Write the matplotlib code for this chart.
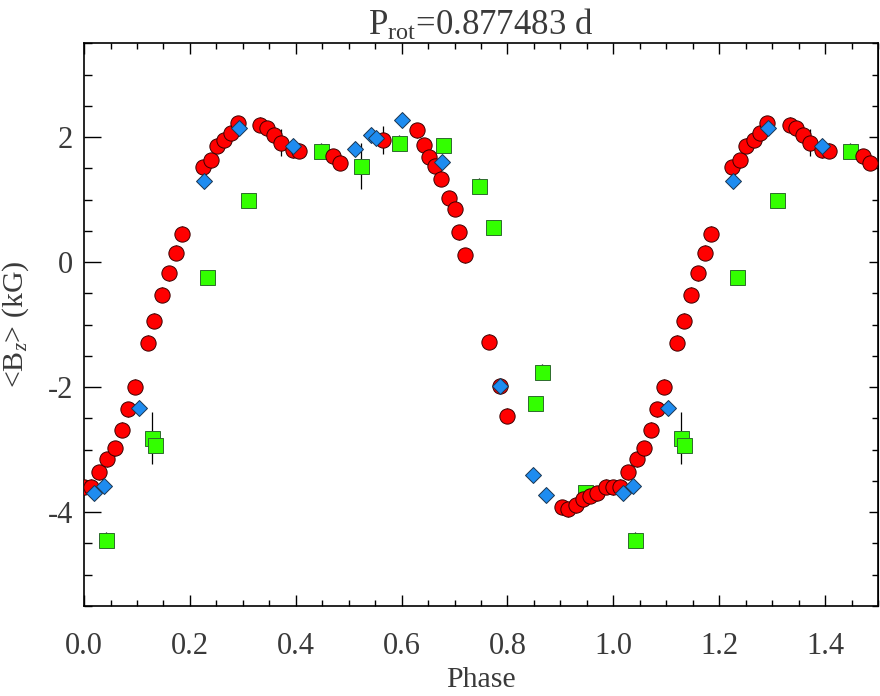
import numpy as np
import matplotlib
matplotlib.use("Agg")
import matplotlib.pyplot as plt

# red circles: phase, <Bz> (kG), error
red_phase = [0.000, 0.013, 0.028, 0.044, 0.058, 0.071, 0.083, 0.096, 0.121, 0.133,
             0.147, 0.160, 0.173, 0.185, 0.225, 0.239, 0.251, 0.265, 0.278, 0.290,
             0.333, 0.345, 0.358, 0.372, 0.394, 0.407, 0.471, 0.484, 0.564, 0.629,
             0.642, 0.652, 0.663, 0.675, 0.690, 0.700, 0.708, 0.720, 0.765, 0.786,
             0.800, 0.903, 0.915, 0.929, 0.943, 0.956, 0.969, 0.987]
red_bz = [-3.60, -3.59, -3.36, -3.15, -2.98, -2.68, -2.35, -1.99, -1.29, -0.94,
          -0.52, -0.18, 0.15, 0.45, 1.52, 1.63, 1.86, 1.96, 2.06, 2.22,
          2.20, 2.14, 2.03, 1.91, 1.79, 1.78, 1.69, 1.59, 1.95, 2.11,
          1.87, 1.68, 1.54, 1.33, 1.02, 0.85, 0.48, 0.11, -1.27, -1.98,
          -2.46, -3.92, -3.95, -3.89, -3.79, -3.74, -3.70, -3.59]
red_err = [0.12, 0.12, 0.12, 0.12, 0.12, 0.12, 0.12, 0.12, 0.12, 0.12,
           0.12, 0.12, 0.12, 0.12, 0.12, 0.12, 0.12, 0.12, 0.12, 0.12,
           0.12, 0.12, 0.12, 0.22, 0.12, 0.12, 0.12, 0.12, 0.22, 0.12,
           0.12, 0.12, 0.12, 0.12, 0.12, 0.12, 0.12, 0.12, 0.12, 0.12,
           0.12, 0.12, 0.12, 0.12, 0.12, 0.12, 0.12, 0.12]

# blue diamonds
blue_phase = [0.018, 0.037, 0.103, 0.227, 0.293, 0.395, 0.512, 0.542, 0.552, 0.601,
              0.676, 0.786, 0.849, 0.873]
blue_bz = [-3.69, -3.58, -2.33, 1.29, 2.15, 1.85, 1.81, 2.03, 1.99, 2.28,
           1.60, -1.98, -3.40, -3.72]
blue_err = [0.10] * 14

# green squares
green_phase = [0.041, 0.128, 0.134, 0.233, 0.309, 0.448, 0.523, 0.595, 0.678, 0.747,
               0.773, 0.852, 0.866, 0.947]
green_bz = [-4.44, -2.81, -2.93, -0.24, 0.99, 1.78, 1.54, 1.91, 1.87, 1.22,
            0.56, -2.26, -1.75, -3.68]
green_err = [0.12, 0.42, 0.12, 0.12, 0.12, 0.12, 0.37, 0.12, 0.12, 0.12,
             0.12, 0.12, 0.12, 0.12]

plt.rcParams['font.family'] = ['Liberation Serif', 'DejaVu Serif']
plt.rcParams['mathtext.fontset'] = 'custom'
plt.rcParams['mathtext.rm'] = 'Liberation Serif'
plt.rcParams['mathtext.it'] = 'Liberation Serif:italic'
plt.rcParams['axes.unicode_minus'] = False

txt = '#3a3a3a'

fig = plt.figure(figsize=(8.8, 6.96), dpi=100)
ax = fig.add_axes([0.0955, 0.1293, 0.9022, 0.8085])


def wrap(ph, v, e):
    # repeat the cycle: phase, phase+1 (first half only) and the tail before 0
    ph = np.asarray(ph)
    v = np.asarray(v)
    e = np.asarray(e)
    lo = ph > 0.98
    hi = ph < 0.5
    return (np.concatenate([ph[lo] - 1, ph, ph[hi] + 1]),
            np.concatenate([v[lo], v, v[hi]]),
            np.concatenate([e[lo], e, e[hi]]))


series = [
    (green_phase, green_bz, green_err, 's', '#33ff00', '#2d6b2d', 10.8, 2),
    (red_phase, red_bz, red_err, 'o', '#ff0000', '#3a0000', 11.0, 3),
    (blue_phase, blue_bz, blue_err, 'D', '#1e8cf0', '#1a3550', 8.6, 4),
]
for ph, v, e, m, fc, ec, ms, z in series:
    x, y, err = wrap(ph, v, e)
    ax.errorbar(x, y, yerr=err, fmt='none', ecolor='black', elinewidth=0.9,
                capsize=0, zorder=1)
    ax.plot(x, y, linestyle='none', marker=m, markersize=ms,
            markerfacecolor=fc, markeredgecolor=ec, markeredgewidth=0.7,
            zorder=z)

ax.set_xlim(0, 1.5)
ax.set_ylim(-5.5, 3.5)
ax.set_xticks(np.arange(0, 1.51, 0.2))
ax.set_xticks(np.arange(0, 1.51, 0.05), minor=True)
ax.set_yticks([-4, -2, 0, 2])
ax.set_yticks(np.arange(-5.5, 3.51, 0.5), minor=True)
ax.xaxis.set_major_formatter(matplotlib.ticker.FormatStrFormatter('%.1f'))

ax.tick_params(axis='x', which='both', direction='in', top=True,
               labelsize=22, labelcolor=txt, pad=19)
ax.tick_params(axis='x', which='major', length=8, width=1)
ax.tick_params(axis='x', which='minor', length=4.5, width=1)
ax.tick_params(axis='y', which='both', direction='in', right=False,
               labelsize=22, labelcolor=txt, pad=8)
ax.tick_params(axis='y', which='major', length=12, width=1)
ax.tick_params(axis='y', which='minor', length=6, width=1)

sec = ax.secondary_yaxis('right')
sec.set_yticks([-4, -2, 0, 2])
sec.set_yticks(np.arange(-5.5, 3.51, 0.5), minor=True)
sec.tick_params(which='both', direction='in', labelright=False)
sec.tick_params(which='major', length=6.5, width=1)
sec.tick_params(which='minor', length=4.5, width=1)

for s in ax.spines.values():
    s.set_linewidth(1.2)

ax.set_xlabel('Phase', fontsize=21.5, color=txt, labelpad=4)
ax.set_ylabel('<B$_z$> (kG)', fontsize=21.5, color=txt, labelpad=12)
ax.set_title('P$_{\\mathrm{rot}}$=0.877483 d', fontsize=25, color=txt, pad=6)

fig.savefig('out.png', dpi=100)
